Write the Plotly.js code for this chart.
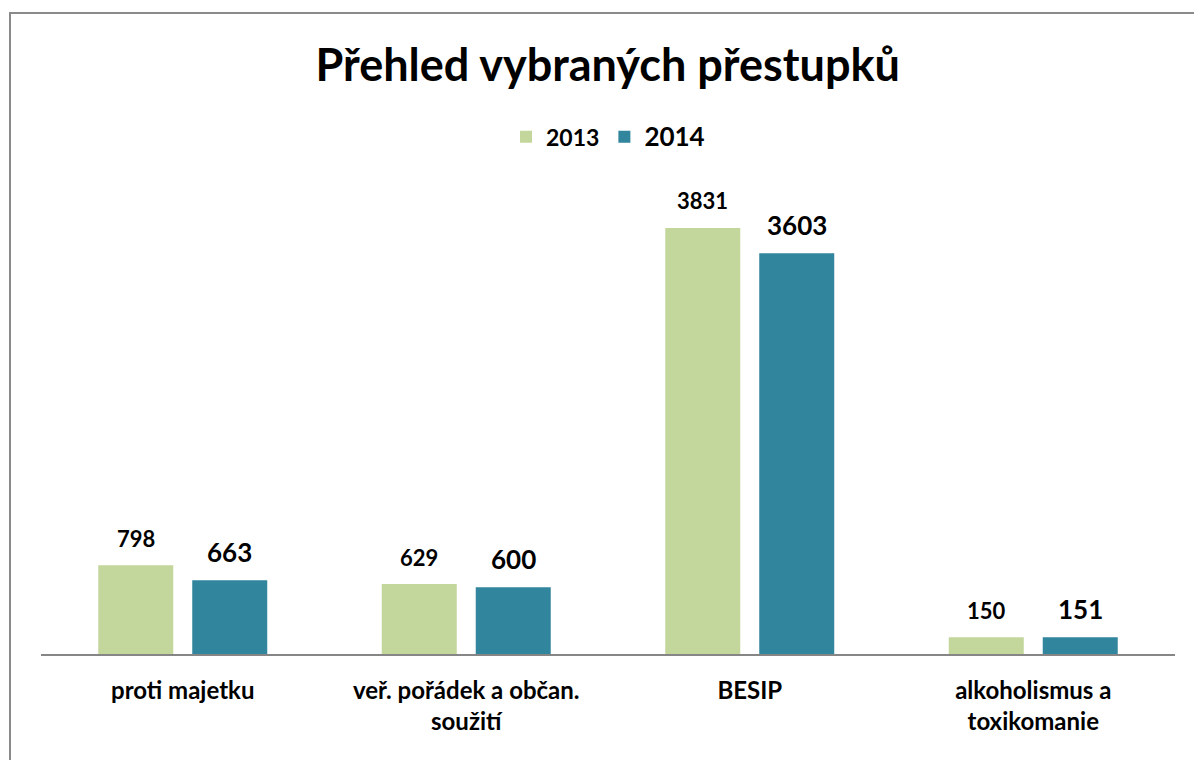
<!DOCTYPE html>
<html><head><meta charset="utf-8">
<script src="https://cdn.plot.ly/plotly-3.0.1.min.js"></script>
<style>
html,body{margin:0;padding:0;background:#fff;overflow:hidden;}
#chart{position:absolute;left:0;top:0;width:1194px;height:760px;}
#frame{position:absolute;left:9px;top:12px;width:3000px;height:3000px;border-left:2px solid #8a8a8a;border-top:2px solid #8a8a8a;pointer-events:none;}
</style></head>
<body>
<div id="chart"></div>
<div id="frame"></div>
<script>
const categories = ["proti majetku", "veř. pořádek a občan.<br>soužití", "BESIP", "alkoholismus a<br>toxikomanie"];
const seriesNames = ["2013", "2014"];
const values2013 = [798, 629, 3831, 150];
const values2014 = [663, 600, 3603, 151];
const colors = ["#C3D69B", "#31859C"];
const FONT = "Lato, 'Open Sans', sans-serif";

const traces = [
  {type:'bar', x:categories, y:values2013, name:'<span style="font-size:23px">'+seriesNames[0]+'</span>', marker:{color:colors[0]}, hoverinfo:'none'},
  {type:'bar', x:categories, y:values2014, name:'<span style="font-size:26px">'+seriesNames[1]+'</span>', marker:{color:colors[1]}, hoverinfo:'none'}
];

const annotations = [];
[[values2013, -47, 22, 27], [values2014, 47, 26, 28]].forEach(([vals, dx, fs, dy]) => {
  vals.forEach((v, i) => {
    annotations.push({x:categories[i], y:v, xref:'x', yref:'y', text:String(v), showarrow:false,
      xshift:dx, yshift:dy, yanchor:'middle', font:{family:FONT, size:fs, color:'#000', weight:'bold'}});
  });
});

const layout = {
  width:1194, height:760,
  margin:{l:41, r:19, t:160, b:106},
  paper_bgcolor:'#fff', plot_bgcolor:'#fff',
  font:{family:FONT, color:'#000', weight:'bold'},
  title:{text:'Přehled vybraných přestupků', x:0.509, xanchor:'center', y:0.914, yanchor:'middle',
         font:{family:FONT, size:45, color:'#000', weight:'bold'}},
  barmode:'group', bargap:0.337, bargroupgap:0.202,
  showlegend:true,
  legend:{orientation:'h', x:0.500, xanchor:'center', y:1.047, yanchor:'middle', bgcolor:'rgba(0,0,0,0)',
          font:{family:FONT, size:23, color:'#000', weight:'bold'}, itemwidth:30, traceorder:'normal'},
  xaxis:{showline:true, linecolor:'#868686', linewidth:2, ticks:'', showgrid:false,
         tickfont:{family:FONT, size:24, color:'#000', weight:'bold'}, ticklabelstandoff:14},
  yaxis:{range:[0, 4442], visible:false, showgrid:false, zeroline:false},
  annotations:annotations
};

Plotly.newPlot('chart', traces, layout, {displayModeBar:false, staticPlot:true});
</script>
</body></html>
